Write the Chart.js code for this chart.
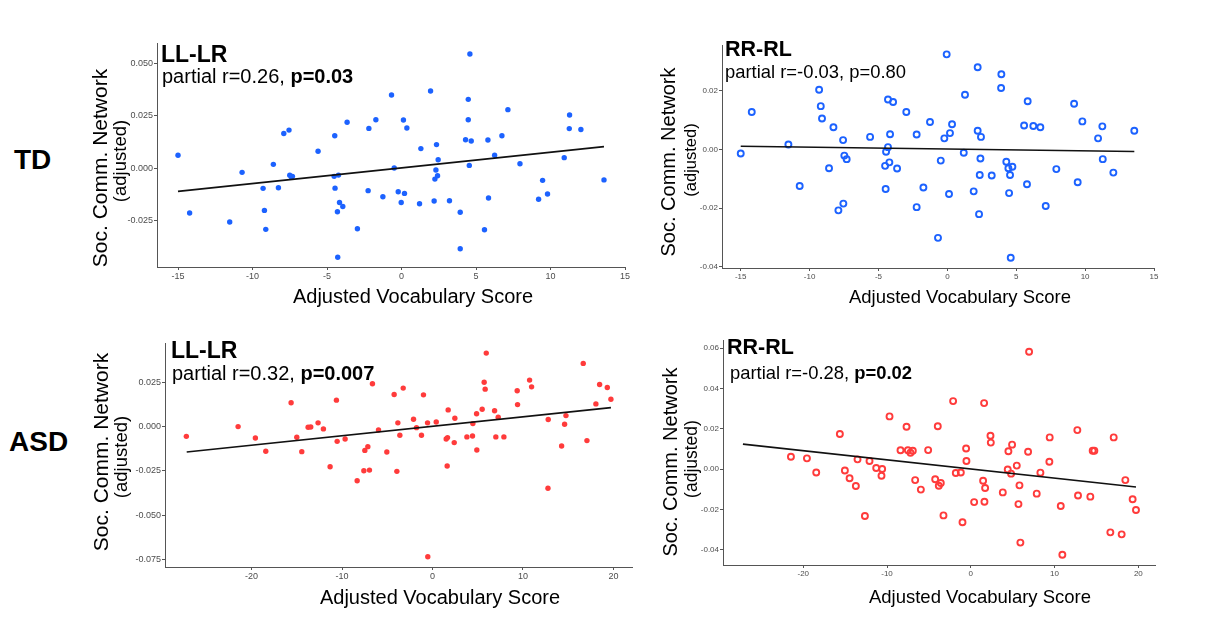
<!DOCTYPE html>
<html>
<head>
<meta charset="utf-8">
<script src="https://cdn.jsdelivr.net/npm/chart.js@4.4.1/dist/chart.umd.min.js"></script>
<style>
  body { margin: 0; width: 1225px; height: 632px; overflow: hidden; background: #fff; position: relative;
         font-family: "Liberation Sans", Arial, Helvetica, sans-serif; }
  .t { position: absolute; white-space: nowrap; line-height: 1; color: #000; }
  .c { transform: translate(-50%, -50%); }
  .r { transform: translate(-50%, -50%) rotate(-90deg); }
  .wrap { position: absolute; }
</style>
</head>
<body>
<script>
// TD, LL-LR (filled blue)
const tdLLx = [-15.0, -14.22, -11.53, -10.70, -9.29, -9.20, -9.11, -8.60, -8.26, -7.90, -7.55, -7.50, -7.39, -7.32, -5.60, -4.48, -4.52, -4.23, -4.46, -4.30, -4.16, -3.94, -4.28, -3.65, -2.96, -2.24, -2.19, -1.72, -1.25, -0.67, -0.49, -0.22, -0.02, 0.13, 0.20, 0.36, 1.21, 1.30, 1.95, 2.19, 2.24, 2.31, 2.35, 2.42, 2.46, 3.22, 3.94, 3.94, 4.30, 4.48, 4.48, 4.55, 4.59, 4.68, 5.57, 5.80, 5.84, 6.25, 6.74, 7.14, 7.95, 9.20, 9.47, 9.80, 10.92, 11.26, 11.28, 12.04, 13.59];
const tdLLy = [0.0062, -0.0212, -0.0255, -0.0019, -0.0095, -0.0200, -0.0290, 0.0019, -0.0092, 0.0166, 0.0182, -0.0033, -0.0041, -0.0038, 0.0081, 0.0155, -0.0038, -0.0032, -0.0094, -0.0206, -0.0162, -0.0181, -0.0423, 0.0219, -0.0287, -0.0106, 0.0190, 0.0231, -0.0135, 0.0349, 0.0002, -0.0111, -0.0162, 0.0230, -0.0119, 0.0192, -0.0168, 0.0094, 0.0368, -0.0155, -0.0051, -0.0008, 0.0113, -0.0035, 0.0041, -0.0154, -0.0209, -0.0382, 0.0136, 0.0328, 0.0231, 0.0014, 0.0544, 0.0130, -0.0292, 0.0135, -0.0141, 0.0062, 0.0155, 0.0279, 0.0022, -0.0147, -0.0057, -0.0122, 0.0051, 0.0189, 0.0254, 0.0185, -0.0055];
const tdLLfitX = [-15.0, 13.59];
const tdLLfitY = [-0.0109, 0.0103];

// TD, RR-RL (open blue)
const tdRRx = [-15.0, -14.20, -11.54, -10.72, -9.31, -9.19, -9.10, -8.59, -8.27, -7.91, -7.57, -7.55, -7.48, -7.31, -5.61, -4.48, -4.52, -4.45, -4.31, -4.31, -4.21, -4.16, -3.94, -3.65, -2.98, -2.23, -2.23, -1.74, -1.26, -0.68, -0.48, -0.22, -0.05, 0.12, 0.19, 0.34, 1.19, 1.28, 1.91, 2.20, 2.20, 2.30, 2.35, 2.40, 2.44, 3.22, 3.90, 3.92, 4.28, 4.43, 4.48, 4.55, 4.60, 4.72, 5.57, 5.78, 5.83, 6.24, 6.75, 7.14, 7.91, 9.20, 9.46, 9.80, 10.94, 11.25, 11.28, 12.05, 13.57];
const tdRRy = [-0.0014, 0.0128, 0.0017, -0.0125, 0.0204, 0.0148, 0.0106, -0.0064, 0.0076, -0.0208, 0.0032, -0.0185, -0.0021, -0.0033, 0.0043, -0.0135, -0.0056, -0.0008, 0.0008, 0.0171, -0.0044, 0.0052, 0.0162, -0.0065, 0.0128, -0.0197, 0.0051, -0.0130, 0.0094, -0.0302, -0.0038, 0.0038, 0.0325, -0.0152, 0.0056, 0.0086, -0.0011, 0.0187, -0.0143, 0.0064, 0.0281, -0.0221, -0.0087, -0.0031, 0.0043, -0.0089, 0.0210, 0.0257, -0.0042, -0.0064, -0.0149, -0.0087, -0.0370, -0.0059, 0.0082, -0.0119, 0.0165, 0.0080, 0.0076, -0.0193, -0.0067, 0.0156, -0.0112, 0.0096, 0.0038, 0.0079, -0.0033, -0.0079, 0.0064];
const tdRRfitX = [-15.0, 13.57];
const tdRRfitY = [0.0011, -0.0007];

// ASD, LL-LR (filled red)
const asdLLx = [-27.21, -21.49, -19.58, -18.43, -15.63, -15.00, -14.45, -13.75, -13.46, -12.65, -12.06, -11.32, -10.62, -10.54, -9.66, -8.33, -7.59, -7.48, -7.15, -6.97, -6.64, -5.97, -5.05, -4.24, -3.94, -3.83, -3.61, -3.24, -2.10, -1.77, -1.22, -1.00, -0.55, -0.52, 0.41, 1.51, 1.62, 1.66, 1.73, 2.40, 2.47, 3.80, 4.42, 4.46, 4.87, 4.90, 5.49, 5.71, 5.82, 5.94, 6.86, 7.00, 7.26, 7.89, 9.36, 9.40, 10.73, 10.95, 12.79, 12.76, 14.27, 14.60, 14.75, 16.66, 17.07, 18.06, 18.47, 19.32, 19.72];
const asdLLy = [-0.0055, 0.0000, -0.0064, -0.0139, 0.0134, -0.0060, -0.0141, -0.0004, -0.0002, 0.0021, -0.0013, -0.0226, 0.0149, -0.0083, -0.0070, -0.0305, -0.0249, -0.0134, -0.0113, -0.0245, 0.0241, -0.0019, -0.0143, 0.0181, -0.0252, 0.0021, -0.0049, 0.0217, 0.0041, -0.0006, -0.0049, 0.0179, 0.0021, -0.0733, 0.0026, -0.0070, -0.0222, -0.0062, 0.0094, -0.0090, 0.0047, -0.0058, -0.0053, 0.0017, 0.0072, -0.0132, 0.0098, 0.0250, 0.0211, 0.0414, 0.0089, -0.0058, 0.0053, -0.0058, 0.0202, 0.0124, 0.0262, 0.0224, 0.0040, -0.0347, -0.0109, 0.0013, 0.0062, 0.0356, -0.0079, 0.0128, 0.0237, 0.0220, 0.0154];
const asdLLfitX = [-27.17, 19.72];
const asdLLfitY = [-0.0143, 0.0107];

// ASD, RR-RL (open red)
const asdRRx = [-21.47, -19.56, -18.45, -15.63, -15.03, -14.47, -13.72, -13.52, -12.64, -12.09, -11.29, -10.58, -10.66, -9.70, -8.39, -7.67, -7.51, -7.20, -6.92, -6.64, -5.96, -5.09, -4.25, -3.94, -3.82, -3.58, -3.26, -2.11, -1.79, -1.19, -0.99, -0.56, -0.52, 0.40, 1.47, 1.63, 1.71, 1.59, 2.35, 2.39, 3.82, 4.41, 4.49, 4.81, 4.93, 5.49, 5.69, 5.81, 5.92, 6.84, 6.96, 7.87, 8.31, 9.38, 9.42, 10.74, 10.93, 12.72, 12.80, 14.27, 14.55, 14.75, 16.66, 17.06, 18.01, 18.45, 19.32, 19.72];
const asdRRy = [0.0061, 0.0053, -0.0017, 0.0174, -0.0007, -0.0046, -0.0084, 0.0048, -0.0233, 0.0040, 0.0005, 0.0000, -0.0033, 0.0261, 0.0093, 0.0210, 0.0093, 0.0081, 0.0091, -0.0055, -0.0102, 0.0094, -0.0051, 0.0212, -0.0083, -0.0069, -0.0230, 0.0337, -0.0020, -0.0017, -0.0264, 0.0102, 0.0040, -0.0164, -0.0058, -0.0162, -0.0094, 0.0327, 0.0165, 0.0131, -0.0116, -0.0002, 0.0088, -0.0023, 0.0121, 0.0017, -0.0174, -0.0081, -0.0365, 0.0086, 0.0582, -0.0122, -0.0018, 0.0036, 0.0157, -0.0183, -0.0425, 0.0193, -0.0131, -0.0137, 0.0091, 0.0091, -0.0314, 0.0157, -0.0324, -0.0055, -0.0150, -0.0203];
const asdRRfitX = [-27.2, 19.72];
const asdRRfitY = [0.0124, -0.0089];

// tick values and labels
const tdXTicks = [-15, -10, -5, 0, 5, 10, 15];
const tdXLabels = ['-15', '-10', '-5', '0', '5', '10', '15'];
const asdXTicks = [-20, -10, 0, 10, 20];
const asdXLabels = ['-20', '-10', '0', '10', '20'];
const tdLLYTicks = [-0.025, 0, 0.025, 0.05];
const tdLLYLabels = ['-0.025', '0.000', '0.025', '0.050'];
const tdRRYTicks = [-0.04, -0.02, 0, 0.02];
const tdRRYLabels = ['-0.04', '-0.02', '0.00', '0.02'];
const asdLLYTicks = [-0.075, -0.05, -0.025, 0, 0.025];
const asdLLYLabels = ['-0.075', '-0.050', '-0.025', '0.000', '0.025'];
const asdRRYTicks = [-0.04, -0.02, 0, 0.02, 0.04, 0.06];
const asdRRYLabels = ['-0.04', '-0.02', '0.00', '0.02', '0.04', '0.06'];

const blue = '#1C62FF';
const red = '#FF3B3B';
const FONT = '"Liberation Sans", Arial, Helvetica, sans-serif';

function addText(html, cls, css) {
  const d = document.createElement('div');
  d.className = 't ' + cls;
  d.innerHTML = html;
  d.style.cssText = css;
  document.body.appendChild(d);
}

// p: plot box in page px, then the data
function panel(p) {
  const padL = 50, padT = 8, padR = 20, padB = 20;
  const wrap = document.createElement('div');
  wrap.className = 'wrap';
  wrap.style.left = (p.l - padL) + 'px';
  wrap.style.top = (p.t - padT) + 'px';
  const cv = document.createElement('canvas');
  cv.width = p.r - p.l + padL + padR;
  cv.height = p.b - p.t + padT + padB;
  wrap.appendChild(cv);
  document.body.appendChild(wrap);

  const axis = (ticks, labels, min, max, fit) => ({
    type: 'linear', min: min, max: max,
    afterFit: fit,
    afterBuildTicks: s => { s.ticks = ticks.map(v => ({ value: v })); },
    ticks: {
      autoSkip: false, maxRotation: 0, padding: 1, color: '#4d4d4d',
      font: { size: p.tick, family: FONT },
      callback: (v, i) => labels[i]
    },
    grid: { drawOnChartArea: false, drawTicks: true, tickLength: 3, color: '#555', lineWidth: 1 },
    border: { display: true, color: '#555', width: 1 }
  });

  new Chart(cv, {
    type: 'scatter',
    data: {
      datasets: [
        {
          type: 'line',
          data: p.fitX.map((x, i) => ({ x: x, y: p.fitY[i] })),
          borderColor: '#111', borderWidth: 1.7, pointRadius: 0, fill: false, order: 0
        },
        {
          data: p.xs.map((x, i) => ({ x: x, y: p.ys[i] })),
          pointRadius: p.hollow ? 3 : 2.7,
          borderWidth: p.hollow ? 1.9 : 0,
          borderColor: p.color,
          backgroundColor: p.hollow ? 'rgba(255,255,255,0)' : p.color,
          order: 1
        }
      ]
    },
    options: {
      responsive: false, animation: false, devicePixelRatio: 1,
      layout: { padding: { left: 0, top: padT, right: padR, bottom: 0 } },
      plugins: { legend: { display: false }, tooltip: { enabled: false } },
      scales: {
        x: axis(p.xTicks, p.xLabels, p.xMin, p.xMax, s => { s.height = padB; }),
        y: axis(p.yTicks, p.yLabels, p.yMin, p.yMax, s => { s.width = padL; })
      }
    }
  });
}

panel({ l: 157, t: 43, r: 625, b: 267, tick: 9, xs: tdLLx, ys: tdLLy, fitX: tdLLfitX, fitY: tdLLfitY,
  color: blue, hollow: false, xMin: -16.41, xMax: 15, yMin: -0.0469, yMax: 0.0596,
  xTicks: tdXTicks, xLabels: tdXLabels, yTicks: tdLLYTicks, yLabels: tdLLYLabels });
panel({ l: 722, t: 45, r: 1154, b: 268, tick: 8, xs: tdRRx, ys: tdRRy, fitX: tdRRfitX, fitY: tdRRfitY,
  color: blue, hollow: true, xMin: -16.36, xMax: 15, yMin: -0.0405, yMax: 0.0357,
  xTicks: tdXTicks, xLabels: tdXLabels, yTicks: tdRRYTicks, yLabels: tdRRYLabels });
panel({ l: 165, t: 343, r: 632, b: 567, tick: 9, xs: asdLLx, ys: asdLLy, fitX: asdLLfitX, fitY: asdLLfitY,
  color: red, hollow: false, xMin: -29.57, xMax: 22.05, yMin: -0.0791, yMax: 0.0471,
  xTicks: asdXTicks, xLabels: asdXLabels, yTicks: asdLLYTicks, yLabels: asdLLYLabels });
panel({ l: 723, t: 340, r: 1155, b: 565, tick: 8, xs: asdRRx, ys: asdRRy, fitX: asdRRfitX, fitY: asdRRfitY,
  color: red, hollow: true, xMin: -29.58, xMax: 21.99, yMin: -0.0476, yMax: 0.064,
  xTicks: asdXTicks, xLabels: asdXLabels, yTicks: asdRRYTicks, yLabels: asdRRYLabels });

// row labels
addText('TD', '', 'left:14px;top:146px;font-size:28px;font-weight:bold;');
addText('ASD', '', 'left:9px;top:428px;font-size:28px;font-weight:bold;');

// panel labels
addText('LL-LR', '', 'left:161px;top:43px;font-size:23px;font-weight:bold;');
addText('partial r=0.26, <b>p=0.03</b>', '', 'left:162px;top:66px;font-size:20px;');
addText('RR-RL', '', 'left:725px;top:39px;font-size:21.5px;font-weight:bold;');
addText('partial r=-0.03, p=0.80', '', 'left:725px;top:63px;font-size:18.4px;');
addText('LL-LR', '', 'left:171px;top:339px;font-size:23px;font-weight:bold;');
addText('partial r=0.32, <b>p=0.007</b>', '', 'left:172px;top:363px;font-size:20px;');
addText('RR-RL', '', 'left:727px;top:337px;font-size:21.5px;font-weight:bold;');
addText('partial r=-0.28, <b>p=0.02</b>', '', 'left:730px;top:364px;font-size:18.4px;');

// y axis titles
addText('Soc. Comm. Network', 'r', 'left:99px;top:168px;font-size:21px;');
addText('(adjusted)', 'r', 'left:120px;top:161px;font-size:18.5px;');
addText('Soc. Comm. Network', 'r', 'left:668px;top:162px;font-size:20px;');
addText('(adjusted)', 'r', 'left:690px;top:160px;font-size:16.5px;');
addText('Soc. Comm. Network', 'r', 'left:100px;top:452px;font-size:21px;');
addText('(adjusted)', 'r', 'left:121px;top:457px;font-size:18.5px;');
addText('Soc. Comm. Network', 'r', 'left:670px;top:462px;font-size:20px;');
addText('(adjusted)', 'r', 'left:692px;top:459px;font-size:17.5px;');

// x axis titles
addText('Adjusted Vocabulary Score', 'c', 'left:413px;top:296px;font-size:20px;');
addText('Adjusted Vocabulary Score', 'c', 'left:960px;top:297px;font-size:18.5px;');
addText('Adjusted Vocabulary Score', 'c', 'left:440px;top:597px;font-size:20px;');
addText('Adjusted Vocabulary Score', 'c', 'left:980px;top:597px;font-size:18.5px;');
</script>
</body>
</html>
